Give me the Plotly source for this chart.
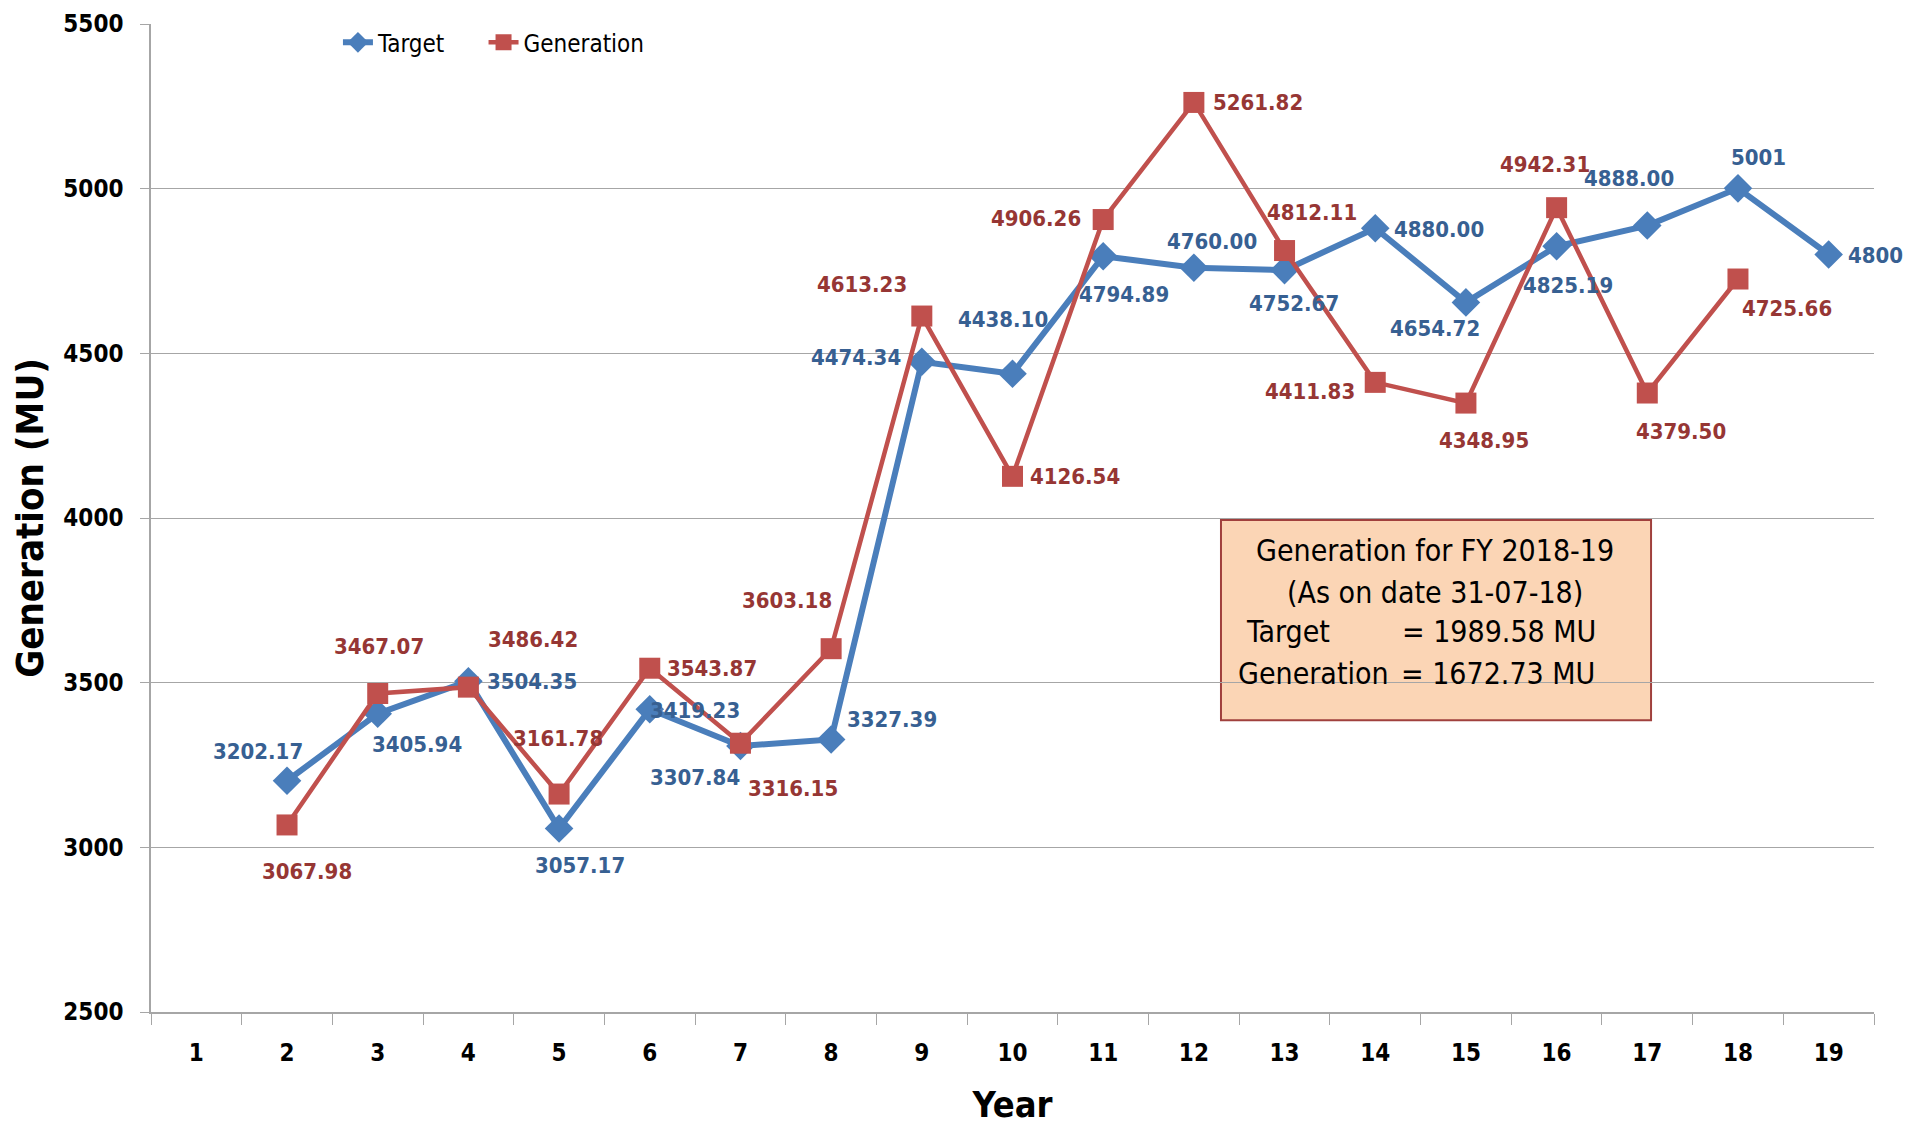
import plotly.graph_objects as go

years = [str(i) for i in range(1, 20)]
target = [None, 3202.17, 3405.94, 3504.35, 3057.17, 3419.23, 3307.84, 3327.39, 4474.34, 4438.10,
          4794.89, 4760.00, 4752.67, 4880.00, 4654.72, 4825.19, 4888.00, 5001, 4800]
target_text = [None, "3202.17", "3405.94", "3504.35", "3057.17", "3419.23", "3307.84", "3327.39", "4474.34",
               "4438.10", "4794.89", "4760.00", "4752.67", "4880.00", "4654.72", "4825.19", "4888.00", "5001", "4800"]
generation = [None, 3067.98, 3467.07, 3486.42, 3161.78, 3543.87, 3316.15, 3603.18, 4613.23, 4126.54,
              4906.26, 5261.82, 4812.11, 4411.83, 4348.95, 4942.31, 4379.50, 4725.66, None]
generation_text = [None, "3067.98", "3467.07", "3486.42", "3161.78", "3543.87", "3316.15", "3603.18", "4613.23",
                   "4126.54", "4906.26", "5261.82", "4812.11", "4411.83", "4348.95", "4942.31", "4379.50", "4725.66", None]
y_ticks = [2500, 3000, 3500, 4000, 4500, 5000, 5500]

box_title = "Generation for FY 2018-19"
box_date = "(As on date 31-07-18)"
box_target = 1989.58
box_generation = 1672.73

# label offsets in pixels (dx right, dy down) - styling only
t_dx = [0, -29, 39, 64, 21, 45, -45, 61, -66, -10, 21, 18, 9, 64, -31, 11, -18, 21, 47]
t_dy = [0, -29, 31, 0, 37, 1, 32, -20, -4, -54, 38, -26, 33, 1, 26, 39, -47, -31, 1]
g_dx = [0, 20, 1, 65, -1, 62, 53, -44, -60, 62, -67, 64, 27, -65, 18, -12, 34, 49, 0]
g_dy = [0, 47, -47, -48, -56, 0, 45, -48, -32, 0, -1, 0, -38, 9, 37, -43, 38, 29, 0]

FONT = "DejaVu Sans Condensed, DejaVu Sans, sans-serif"
BLUE = "#4A7EBB"
RED = "#C0504D"
BLUE_TXT = "#376092"
RED_TXT = "#963634"
GRID = "#A6A6A6"

fig = go.Figure()
fig.add_trace(go.Scatter(x=years, y=target, name="Target", mode="lines+markers",
                         line=dict(color=BLUE, width=6), legend="legend",
                         marker=dict(symbol="diamond", size=22, color=BLUE)))
fig.add_trace(go.Scatter(x=years, y=generation, name="Generation", mode="lines+markers",
                         line=dict(color=RED, width=4.5), legend="legend2",
                         marker=dict(symbol="square", size=21, color=RED)))

annotations = []
for i, (yv, tx) in enumerate(zip(target, target_text)):
    if yv is None:
        continue
    annotations.append(dict(x=i, y=yv, text=tx, showarrow=False, xshift=t_dx[i], yshift=-t_dy[i],
                            font=dict(family=FONT, size=22, color=BLUE_TXT, weight="bold")))
for i, (yv, tx) in enumerate(zip(generation, generation_text)):
    if yv is None:
        continue
    annotations.append(dict(x=i, y=yv, text=tx, showarrow=False, xshift=g_dx[i], yshift=-g_dy[i],
                            font=dict(family=FONT, size=22, color=RED_TXT, weight="bold")))

box_font = dict(family=FONT, size=30, color="#000000")
annotations += [
    dict(xref="paper", yref="paper", x=0.7455, y=0.4667, text=box_title, showarrow=False,
         xanchor="center", yanchor="middle", font=box_font),
    dict(xref="paper", yref="paper", x=0.7455, y=0.4244, text=box_date, showarrow=False,
         xanchor="center", yanchor="middle", font=box_font),
    dict(xref="paper", yref="paper", x=0.6344, y=0.3851, text="Target", showarrow=False,
         xanchor="left", yanchor="middle", font=box_font),
    dict(xref="paper", yref="paper", x=0.7249, y=0.3851, text=f"= {box_target:.2f} MU", showarrow=False,
         xanchor="left", yanchor="middle", font=box_font),
    dict(xref="paper", yref="paper", x=0.6297, y=0.3427, text="Generation", showarrow=False,
         xanchor="left", yanchor="middle", font=box_font),
    dict(xref="paper", yref="paper", x=0.7243, y=0.3427, text=f"= {box_generation:.2f} MU", showarrow=False,
         xanchor="left", yanchor="middle", font=box_font),
]

legend_font = dict(family=FONT, size=24, color="#000000")
fig.update_layout(
    width=1913, height=1117,
    margin=dict(l=143, r=47, t=12, b=113),
    paper_bgcolor="white", plot_bgcolor="white",
    showlegend=True,
    legend=dict(orientation="h", x=0.1085, y=0.981, xanchor="left", yanchor="middle",
                font=legend_font, bgcolor="rgba(0,0,0,0)"),
    legend2=dict(orientation="h", x=0.193, y=0.981, xanchor="left", yanchor="middle",
                 font=legend_font, bgcolor="rgba(0,0,0,0)"),
    annotations=annotations,
    shapes=[dict(type="rect", xref="paper", yref="paper", x0=0.621, x1=0.8706, y0=0.2954, y1=0.498,
                 fillcolor="#FBD5B5", line=dict(color="#A0403D", width=2), layer="below")],
    xaxis=dict(type="category", range=[-0.5, 18.5], tickson="boundaries", ticks="outside", ticklen=11,
               tickcolor=GRID, automargin=False,
               showline=True, linecolor=GRID, linewidth=1.5, showgrid=False,
               tickfont=dict(family=FONT, size=24, color="#000000", weight="bold"),
               ticklabelstandoff=18,
               title=dict(text="Year", font=dict(family=FONT, size=36, color="#000000", weight="bold"),
                          standoff=27)),
    yaxis=dict(range=[2500, 5500], tickvals=y_ticks, ticks="outside", ticklen=9, tickcolor=GRID,
               automargin=False,
               showline=True, linecolor=GRID, linewidth=1.5, showgrid=True, gridcolor=GRID, gridwidth=1,
               zeroline=False, ticklabelstandoff=12,
               tickfont=dict(family=FONT, size=24, color="#000000", weight="bold"),
               title=dict(text="Generation (MU)", font=dict(family=FONT, size=38, color="#000000", weight="bold"),
                          standoff=14)),
)

fig.write_html("out.html")
